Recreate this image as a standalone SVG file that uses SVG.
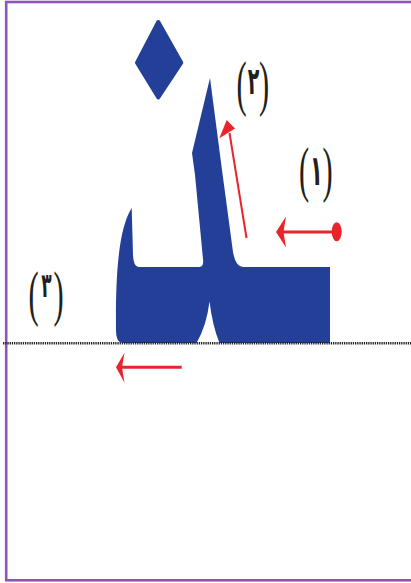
<svg xmlns="http://www.w3.org/2000/svg" width="411" height="583" viewBox="0 0 411 583">
  <style>
    .glyph { fill: #233f97; }
    .red { fill: #e9252b; }
    .redline { stroke: #e9252b; fill: none; }
    .lbl { fill: #231f20; text-anchor: middle; }
    .p { font-family: "Liberation Serif", "DejaVu Serif", serif; font-size: 61px; font-weight: normal; }
    .d { font-family: "DejaVu Sans", "Noto Sans", sans-serif; font-weight: bold; font-size: 38px; }
  </style>
  <rect width="411" height="583" fill="#ffffff"/>
  <!-- frame -->
  <rect id="frame" x="6.2" y="2" width="412" height="578.3" fill="none" stroke="#8d55b5" stroke-width="2.6"/>

  <!-- letter ض -->
  <g id="letter">
    <path class="glyph" d="M158.3,22 L137,62.7 L158.3,97.5 L181.3,62.7 Z" stroke="#233f97" stroke-width="4" stroke-linejoin="round"/>
    <path class="glyph" d="M131.7,208 L133,255 Q133.5,266.5 138.5,267 L199.5,267 Q204,266.5 203,259 L195,175 L192,153 L210,78 L222,170 L233,252 Q235.5,266.5 243,267 L330,267 L330,343 L219.5,343 Q212.5,326 209.5,301.5 Q206.5,326 196.5,343 L123,343 Q116,343 116,331 C115.5,282 117.5,230 131.7,208 Z"/>
  </g>

  <!-- baseline -->
  <g id="baseline">
    <line x1="3" y1="343.3" x2="411" y2="343.3" stroke="#222222" stroke-width="2.6" stroke-dasharray="1.3 0.9"/>
  </g>

  <!-- stroke arrows -->
  <g id="arrows">
    <g id="arrow-1">
      <line class="redline" x1="283" y1="232" x2="336.7" y2="232" stroke-width="3"/>
      <ellipse class="red" cx="336.7" cy="231.7" rx="5" ry="9.5"/>
      <polygon class="red" points="276,232 286,216.5 283.5,232 286,247.5"/>
    </g>
    <g id="arrow-2">
      <line class="redline" x1="246.5" y1="238" x2="229.5" y2="133" stroke-width="2"/>
      <polygon class="red" points="226.7,120 235,128.5 219.3,138.3"/>
    </g>
    <g id="arrow-3">
      <line class="redline" x1="122" y1="367.3" x2="181.7" y2="367.3" stroke-width="3"/>
      <polygon class="red" points="116,367.3 124.5,352.7 122,367.3 124.5,382.7"/>
    </g>
  </g>

  <!-- labels -->
  <g id="label-2">
    <text class="lbl" transform="translate(253.5,104) scale(0.5,1)"><tspan class="p" x="-24">(</tspan><tspan class="d" x="0" dy="-10">٢</tspan><tspan class="p" x="21" dy="10">)</tspan></text>
  </g>
  <g id="label-1">
    <text class="lbl" transform="translate(316.5,190) scale(0.5,1)"><tspan class="p" x="-25">(</tspan><tspan class="d" x="0" dy="-5" style="font-size:42px">١</tspan><tspan class="p" x="22" dy="5">)</tspan></text>
  </g>
  <g id="label-3">
    <text class="lbl" transform="translate(46.5,314) scale(0.5,1)"><tspan class="p" x="-26">(</tspan><tspan class="d" x="0" dy="-17" style="font-size:34px">٣</tspan><tspan class="p" x="24" dy="17">)</tspan></text>
  </g>
</svg>
